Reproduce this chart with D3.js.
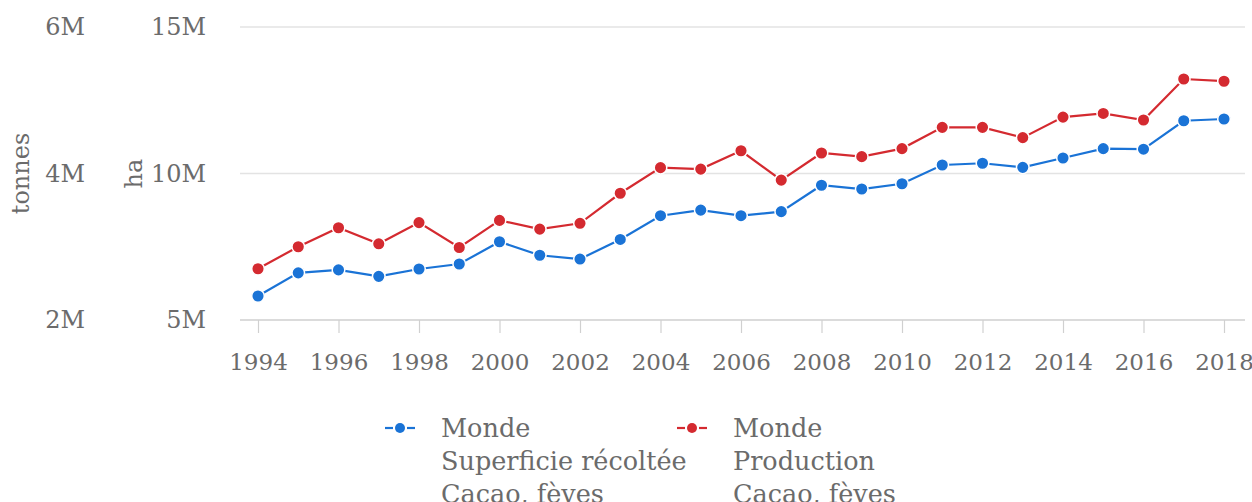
<!DOCTYPE html>
<html><head><meta charset="utf-8">
<script src="https://cdn.jsdelivr.net/npm/d3@7"></script>
<style>
body{margin:0;background:#fff;}
svg text{font-family:"DejaVu Serif",serif;fill:#6b6b6b;}
</style></head><body>
<svg id="chart" width="1252" height="502"></svg>
<script>
const years = [1994,1995,1996,1997,1998,1999,2000,2001,2002,2003,2004,2005,2006,2007,2008,2009,2010,2011,2012,2013,2014,2015,2016,2017,2018];
const areaHa = [5.82,6.61,6.71,6.49,6.74,6.91,7.67,7.21,7.08,7.75,8.56,8.75,8.56,8.70,9.60,9.47,9.65,10.29,10.35,10.21,10.53,10.85,10.83,11.80,11.86].map(v=>v*1e6);
const prodT = [2.70,3.00,3.26,3.04,3.33,2.99,3.36,3.24,3.32,3.73,4.08,4.06,4.31,3.91,4.28,4.23,4.34,4.63,4.63,4.49,4.77,4.82,4.73,5.29,5.26].map(v=>v*1e6);
const haTicks = [5e6,10e6,15e6];
const tTicks = [2e6,4e6,6e6];
const xTicks = [1994,1996,1998,2000,2002,2004,2006,2008,2010,2012,2014,2016,2018];
const legendItems = [
  {lines:["Monde","Superficie récoltée","Cacao, fèves"], color:"#1a73d6"},
  {lines:["Monde","Production","Cacao, fèves"], color:"#d42a30"}
];

const svg = d3.select("#chart");
const pL = 240, pR = 1245, pT = 27, pB = 320;
const x = d3.scaleLinear().domain([1994,2018]).range([258,1224]);
const yHa = d3.scaleLinear().domain([5e6,15e6]).range([pB, pT]);
const yT = d3.scaleLinear().domain([2e6,6e6]).range([pB, pT]);
const fmt = v => (v/1e6)+"M";

// gridlines
svg.append("g").selectAll("line").data(haTicks).join("line")
  .attr("x1",pL).attr("x2",pR)
  .attr("y1",d=>yHa(d)).attr("y2",d=>yHa(d))
  .attr("stroke",d=>d===5e6?"#cfcfcf":"#e3e3e3").attr("stroke-width",1.5);

// x axis ticks
const xa = svg.append("g").attr("transform",`translate(0,${pB})`)
  .call(d3.axisBottom(x).tickValues(xTicks).tickFormat(d3.format("d")).tickSize(13).tickPadding(21));
xa.select(".domain").remove();
xa.selectAll(".tick line").attr("stroke","#d0d0d0").attr("stroke-width",1.2);
xa.selectAll(".tick text").style("font-size","23px").attr("fill","#6b6b6b").style("font-family","DejaVu Serif");

// y axes (labels only)
const yaHa = svg.append("g").attr("transform","translate(206,0)")
  .call(d3.axisLeft(yHa).tickValues(haTicks).tickFormat(fmt).tickSize(0).tickPadding(0));
const yaT = svg.append("g").attr("transform","translate(85,0)")
  .call(d3.axisLeft(yT).tickValues(tTicks).tickFormat(fmt).tickSize(0).tickPadding(0));
[yaHa,yaT].forEach(a=>{
  a.select(".domain").remove();
  a.selectAll(".tick text").style("font-size","24px").attr("fill","#6b6b6b").style("font-family","DejaVu Serif");
});

svg.append("text").attr("transform",`translate(29,${yT(4e6)}) rotate(-90)`)
  .attr("text-anchor","middle").style("font-size","24px").text("tonnes");
svg.append("text").attr("transform",`translate(142,${yHa(10e6)}) rotate(-90)`)
  .attr("text-anchor","middle").style("font-size","24px").text("ha");

function series(vals, yScale, color){
  const line = d3.line().x((d,i)=>x(years[i])).y(d=>yScale(d));
  svg.append("path").datum(vals).attr("d",line).attr("fill","none")
    .attr("stroke",color).attr("stroke-width",2.2);
  svg.append("g").selectAll("circle").data(vals).join("circle")
    .attr("cx",(d,i)=>x(years[i])).attr("cy",d=>yScale(d)).attr("r",6.3)
    .attr("fill",color).attr("stroke","#fff").attr("stroke-width",1.5);
}
series(prodT, yT, legendItems[1].color);
series(areaHa, yHa, legendItems[0].color);

// legend
const lg = svg.append("g");
const lx = [385, 677];
legendItems.forEach((it,k)=>{
  const g = lg.append("g").attr("transform",`translate(${lx[k]},428)`);
  g.append("line").attr("x1",0).attr("x2",8).attr("stroke",it.color).attr("stroke-width",2.2);
  g.append("line").attr("x1",22).attr("x2",30).attr("stroke",it.color).attr("stroke-width",2.2);
  g.append("circle").attr("cx",15).attr("cy",0).attr("r",5).attr("fill",it.color);
  it.lines.forEach((t,j)=>{
    g.append("text").attr("x",56).attr("y",j*33).attr("dy","0.35em")
      .style("font-size","25.5px").text(t);
  });
});
</script>
</body></html>
